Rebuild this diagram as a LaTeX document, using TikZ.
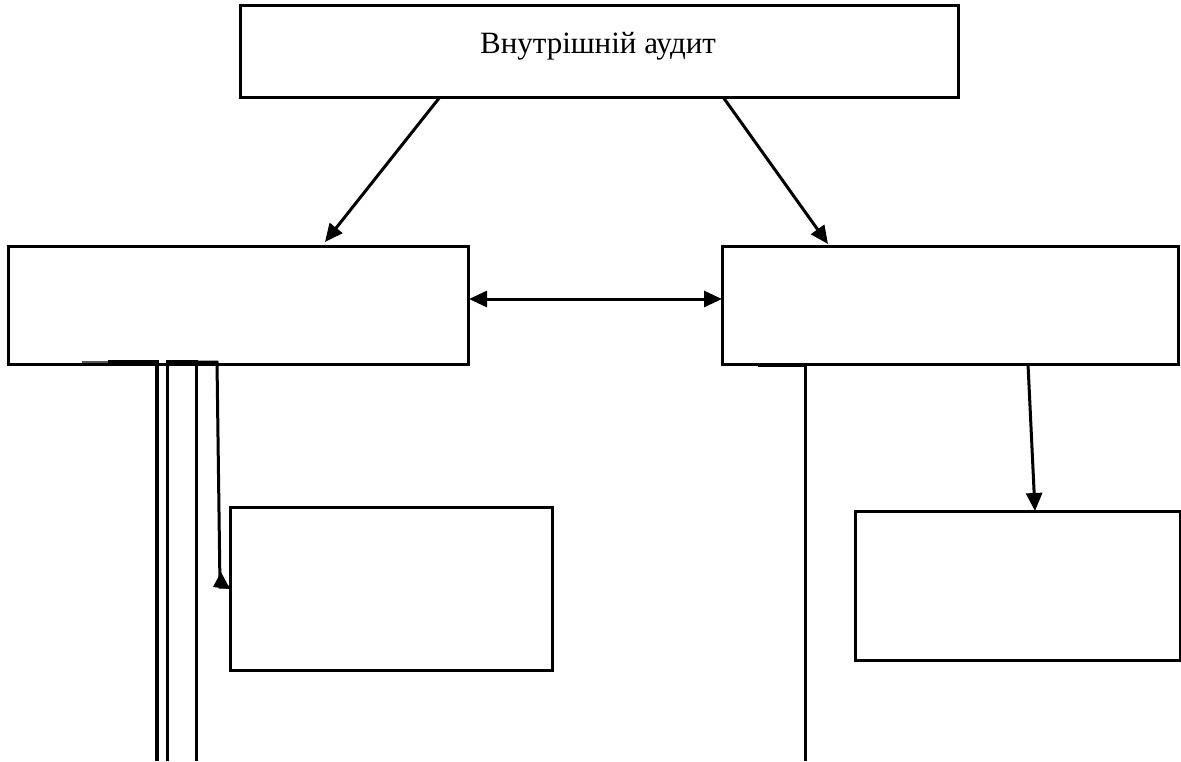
\documentclass[tikz,border=0pt]{standalone}
\usepackage{fontspec}
\setmainfont{Liberation Serif}
\usetikzlibrary{arrows.meta,calc}
\begin{document}
\begin{tikzpicture}[x=1pt,y=-1pt,
  box/.style={draw, line width=3pt, inner sep=0pt, outer sep=0pt},
  conn/.style={line width=3pt, -{Triangle[length=18pt,width=16pt]}},
  dconn/.style={line width=3pt, {Triangle[length=18pt,width=16pt]}-{Triangle[length=18pt,width=16pt]}},
  wire/.style={line width=3pt}]
\useasboundingbox (0,0) rectangle (1181,761);
\fill[white] (0,0) rectangle (1181,761);
% boxes
\node[box, minimum width=718pt, minimum height=92pt] (top) at (599,51) {};
\node[font=\fontsize{31}{36}\selectfont, inner sep=0pt] (title) at (598,46) {Внутрішній аудит};
\node[box, minimum width=460pt, minimum height=118pt] (L) at (238,305) {};
\node[box, minimum width=456pt, minimum height=118pt] (R) at (950,305) {};
\node[box, minimum width=322pt, minimum height=163pt] (BL) at (391,588.5) {};
\node[box, minimum width=325pt, minimum height=149pt] (BR) at (1017.5,585.5) {};
% arrows from top
\draw[conn] ($(top.south west)+(200,0)$) -- ($(L.north west)+(317,-4)$);
\draw[conn] ($(top.south west)+(483,0)$) -- ($(R.north west)+(106,-2)$);
% double arrow
\draw[dconn] ($(L.east)+(1,-6)$) -- ($(R.west)+(0,-6)$);
% right box down
\draw[conn] ($(R.south west)+(306,0)$) -- ($(BR.north west)+(180,0)$);
% right long line
\coordinate (rb) at (805,761);
\draw[wire] ($(R.south west)+(36,1)$) -- ($(R.south west)+(83,1)$) -- (rb);
% left lines
\coordinate (a1) at (157,761);
\coordinate (b1) at (167,761);
\coordinate (b2) at (196,761);
\coordinate (ce) at (220,587);
\draw[wire, line width=2pt, black!65] ($(L.south west)+(74,-2)$) -- ($(L.south west)+(100,-2)$);
\draw[wire, line width=3.6pt] ($(L.south west)+(100,-2)$) -- ($(L.south west)+(149,-2)$) -- (a1);
\draw[wire] (b1) -- ($(L.south west)+(159,-3)$) -- ($(L.south west)+(188,-3)$) -- (b2);
\draw[wire] ($(L.south west)+(188,-2)$) -- ($(L.south west)+(209,-2)$) -- (ce) -- (BL.west |- ce);
\fill ($(ce)+(1,-15)$) -- ($(BL.west |- ce)+(0,2)$) -- ($(ce)+(-7,0)$) -- cycle;
\end{tikzpicture}
\end{document}
